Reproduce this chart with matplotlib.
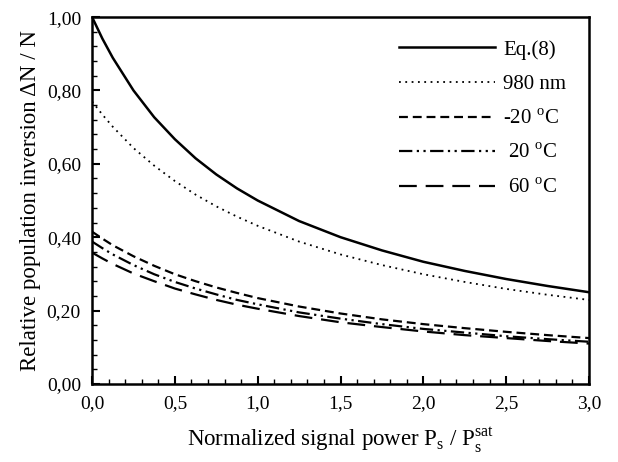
import matplotlib
matplotlib.use("Agg")
import matplotlib.pyplot as plt
from matplotlib.ticker import MultipleLocator

plt.rcParams["font.family"] = "Liberation Serif"
plt.rcParams["mathtext.fontset"] = "custom"
plt.rcParams["mathtext.rm"] = "Liberation Serif"

# values
x = [0.0, 0.0625, 0.125, 0.25, 0.375, 0.5, 0.625, 0.75, 0.875, 1.0, 1.25, 1.5, 1.75, 2.0, 2.25, 2.5, 2.75, 3.0]
eq8 = [1.000, 0.941, 0.889, 0.800, 0.727, 0.667, 0.615, 0.571, 0.533, 0.500, 0.444, 0.400, 0.364, 0.333, 0.308, 0.286, 0.267, 0.250]
nm980 = [0.770, 0.734, 0.701, 0.643, 0.595, 0.553, 0.516, 0.484, 0.456, 0.431, 0.388, 0.353, 0.324, 0.299, 0.278, 0.259, 0.243, 0.229]
t_m20 = [0.415, 0.396, 0.378, 0.348, 0.322, 0.299, 0.280, 0.263, 0.248, 0.234, 0.211, 0.192, 0.176, 0.163, 0.152, 0.142, 0.133, 0.125]
t_20 = [0.388, 0.370, 0.353, 0.324, 0.299, 0.278, 0.260, 0.244, 0.229, 0.217, 0.195, 0.178, 0.163, 0.150, 0.140, 0.130, 0.122, 0.115]
t_60 = [0.358, 0.342, 0.327, 0.301, 0.280, 0.260, 0.244, 0.229, 0.216, 0.205, 0.185, 0.168, 0.155, 0.143, 0.133, 0.125, 0.117, 0.110]

xticks = [0.0, 0.5, 1.0, 1.5, 2.0, 2.5, 3.0]
xticklabels = ["0,0", "0,5", "1,0", "1,5", "2,0", "2,5", "3,0"]
yticks = [0.0, 0.2, 0.4, 0.6, 0.8, 1.0]
yticklabels = ["0,00", "0,20", "0,40", "0,60", "0,80", "1,00"]

fig = plt.figure(figsize=(6.18, 4.62), dpi=100)
ax = fig.add_axes([0.149, 0.169, 0.804, 0.794])

ax.plot(x, eq8, color="black", lw=1.8, ls="-", label="Eq.(8)")
ax.plot(x, nm980, color="black", lw=1.3, ls=(0, (1, 2.5)), label="980 nm")
ax.plot(x, t_m20, color="black", lw=1.6, ls=(0, (4, 2.2)), label="-20 $^{\\mathrm{o}}$C")
ax.plot(x, t_20, color="black", lw=1.6, ls=(0, (6, 2, 1, 2, 1, 2)), label=" 20 $^{\\mathrm{o}}$C")
ax.plot(x, t_60, color="black", lw=1.6, ls=(0, (8, 4)), label=" 60 $^{\\mathrm{o}}$C")

ax.set_xlim(0, 3)
ax.set_ylim(0, 1)
ax.set_xticks(xticks)
ax.set_xticklabels(xticklabels)
ax.set_yticks(yticks)
ax.set_yticklabels(yticklabels)
ax.xaxis.set_minor_locator(MultipleLocator(0.1))
ax.yaxis.set_minor_locator(MultipleLocator(0.04))
ax.tick_params(which="both", direction="in", labelsize=14, top=False, right=False)
ax.tick_params(which="major", length=6, width=1.5, pad=8)
ax.tick_params(which="minor", length=3.5, width=1)
for s in ax.spines.values():
    s.set_linewidth(1.8)

ax.set_xlabel("Normalized signal power P$_\\mathrm{s}$ / P$_\\mathrm{s}^{\\mathrm{sat}}$", fontsize=16.5, labelpad=10)
ax.set_ylabel("Relative population inversion \u0394N / N", fontsize=16.5, labelpad=4)

ax.legend(loc="upper right", frameon=False, fontsize=15, handlelength=4.6,
          handletextpad=0.4, labelspacing=0.72, borderaxespad=0.7)

plt.savefig("out.png", dpi=100)
